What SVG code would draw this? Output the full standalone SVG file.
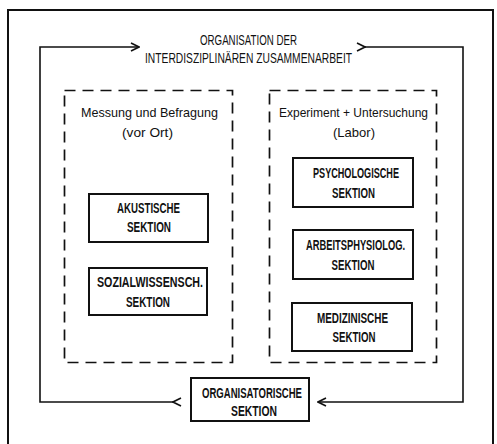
<svg xmlns="http://www.w3.org/2000/svg" width="497" height="444" viewBox="0 0 497 444">
<style>
.frame{fill:none;stroke:#111;stroke-width:2}
.dash{fill:none;stroke:#111;stroke-width:1.7;stroke-dasharray:11 7}
.box{fill:#fff;stroke:#111;stroke-width:2}
.conn{fill:none;stroke:#111;stroke-width:1.6}
.lbl{font-family:"Liberation Sans",Arial,sans-serif;font-weight:bold;font-size:14.5px;fill:#111;text-anchor:middle}
.txt{font-family:"Liberation Sans",Arial,sans-serif;font-size:13.5px;fill:#111;text-anchor:middle}
.ttl{font-family:"Liberation Sans",Arial,sans-serif;font-size:15.5px;fill:#111;text-anchor:middle}
</style>
<defs>
<marker id="chev" viewBox="0 0 10 10" refX="9" refY="5" markerWidth="10" markerHeight="10" markerUnits="userSpaceOnUse" orient="auto">
<path d="M1,1 L9,5 L1,9" fill="none" stroke="#111" stroke-width="1.6"/>
</marker>
</defs>
<rect width="497" height="444" fill="#fff"/>
<path class="frame" d="M8,444 V10 H493 V444"/>
<g id="title">
<text class="ttl" x="248.5" y="45" textLength="97" lengthAdjust="spacingAndGlyphs">ORGANISATION DER</text>
<text class="ttl" x="248.5" y="63" textLength="207" lengthAdjust="spacingAndGlyphs">INTERDISZIPLINÄREN ZUSAMMENARBEIT</text>
</g>
<g id="connectors">
<path class="conn" d="M173,402 H40 V47 H139" marker-start="url(#chev)" marker-end="url(#chev)"/>
<path class="conn" d="M365,47 H463 V402 H318" marker-start="url(#chev)" marker-end="url(#chev)"/>
</g>
<g id="group-vor-ort">
<rect class="dash" x="64.5" y="90.5" width="168" height="272"/>
<text class="txt" x="149.5" y="117" textLength="137" lengthAdjust="spacingAndGlyphs">Messung und Befragung</text>
<text class="txt" x="147.5" y="137" textLength="51" lengthAdjust="spacingAndGlyphs">(vor Ort)</text>
</g>
<g id="group-labor">
<rect class="dash" x="269.5" y="90.5" width="167" height="272"/>
<text class="txt" x="353.5" y="117" textLength="149" lengthAdjust="spacingAndGlyphs">Experiment + Untersuchung</text>
<text class="txt" x="354" y="137" textLength="42" lengthAdjust="spacingAndGlyphs">(Labor)</text>
</g>
<g id="akustische">
<rect class="box" x="89" y="194" width="119" height="48"/>
<text class="lbl" x="148.5" y="213" textLength="63" lengthAdjust="spacingAndGlyphs">AKUSTISCHE</text>
<text class="lbl" x="149" y="232" textLength="44" lengthAdjust="spacingAndGlyphs">SEKTION</text>
</g>
<g id="sozialwissensch">
<rect class="box" x="89" y="268" width="118" height="47"/>
<text class="lbl" x="150" y="287" textLength="106" lengthAdjust="spacingAndGlyphs">SOZIALWISSENSCH.</text>
<text class="lbl" x="148" y="307" textLength="44" lengthAdjust="spacingAndGlyphs">SEKTION</text>
</g>
<g id="psychologische">
<rect class="box" x="293" y="158" width="120" height="49"/>
<text class="lbl" x="356" y="178" textLength="86" lengthAdjust="spacingAndGlyphs">PSYCHOLOGISCHE</text>
<text class="lbl" x="353.5" y="198" textLength="43" lengthAdjust="spacingAndGlyphs">SEKTION</text>
</g>
<g id="arbeitsphysiolog">
<rect class="box" x="293" y="230" width="120" height="49"/>
<text class="lbl" x="355.5" y="250" textLength="99" lengthAdjust="spacingAndGlyphs">ARBEITSPHYSIOLOG.</text>
<text class="lbl" x="353" y="270" textLength="43" lengthAdjust="spacingAndGlyphs">SEKTION</text>
</g>
<g id="medizinische">
<rect class="box" x="292" y="303" width="120" height="48"/>
<text class="lbl" x="352.5" y="323" textLength="71" lengthAdjust="spacingAndGlyphs">MEDIZINISCHE</text>
<text class="lbl" x="354" y="342" textLength="43" lengthAdjust="spacingAndGlyphs">SEKTION</text>
</g>
<g id="organisatorische">
<rect class="box" x="191" y="378" width="118" height="43"/>
<text class="lbl" x="252" y="398" textLength="100" lengthAdjust="spacingAndGlyphs">ORGANISATORISCHE</text>
<text class="lbl" x="254" y="416" textLength="46" lengthAdjust="spacingAndGlyphs">SEKTION</text>
</g>
</svg>
